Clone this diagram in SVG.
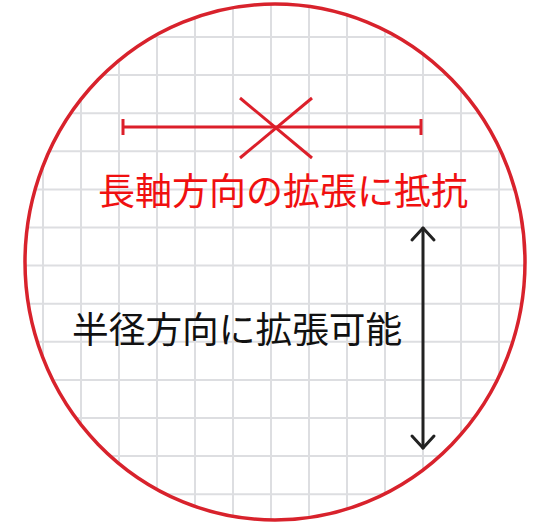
<svg xmlns="http://www.w3.org/2000/svg" width="545" height="526" viewBox="0 0 545 526">
  <style>
    .grid line { stroke: #dddee1; stroke-width: 2; }
    .red { stroke: #dc1f2a; stroke-width: 3; fill: none; }
    .ring { stroke: #d8222c; stroke-width: 3.5; fill: none; }
    .redtext { font-family: "Noto Sans CJK JP", "Noto Sans", sans-serif; font-size: 37px; fill: #f01010; }
    .blacktext { font-family: "Noto Sans CJK JP", "Noto Sans", sans-serif; font-size: 36.7px; fill: #111111; }
    .arrow { stroke: #222222; stroke-width: 3; fill: none; stroke-linecap: round; stroke-linejoin: round; }
  </style>
  <defs>
    <clipPath id="circleClip">
      <ellipse cx="275" cy="262" rx="250" ry="258"/>
    </clipPath>
  </defs>
  <rect width="545" height="526" fill="#ffffff"/>
  <g id="grid" class="grid" clip-path="url(#circleClip)">
    <line x1="5" y1="0" x2="5" y2="526"/>
    <line x1="43" y1="0" x2="43" y2="526"/>
    <line x1="81" y1="0" x2="81" y2="526"/>
    <line x1="119" y1="0" x2="119" y2="526"/>
    <line x1="157" y1="0" x2="157" y2="526"/>
    <line x1="195" y1="0" x2="195" y2="526"/>
    <line x1="233" y1="0" x2="233" y2="526"/>
    <line x1="271" y1="0" x2="271" y2="526"/>
    <line x1="309" y1="0" x2="309" y2="526"/>
    <line x1="347" y1="0" x2="347" y2="526"/>
    <line x1="385" y1="0" x2="385" y2="526"/>
    <line x1="423" y1="0" x2="423" y2="526"/>
    <line x1="461" y1="0" x2="461" y2="526"/>
    <line x1="499" y1="0" x2="499" y2="526"/>
    <line x1="537" y1="0" x2="537" y2="526"/>
    <line x1="0" y1="37" x2="545" y2="37"/>
    <line x1="0" y1="75.1" x2="545" y2="75.1"/>
    <line x1="0" y1="113.2" x2="545" y2="113.2"/>
    <line x1="0" y1="151.3" x2="545" y2="151.3"/>
    <line x1="0" y1="189.4" x2="545" y2="189.4"/>
    <line x1="0" y1="227.5" x2="545" y2="227.5"/>
    <line x1="0" y1="265.6" x2="545" y2="265.6"/>
    <line x1="0" y1="303.7" x2="545" y2="303.7"/>
    <line x1="0" y1="341.8" x2="545" y2="341.8"/>
    <line x1="0" y1="379.9" x2="545" y2="379.9"/>
    <line x1="0" y1="418" x2="545" y2="418"/>
    <line x1="0" y1="456.1" x2="545" y2="456.1"/>
    <line x1="0" y1="494.2" x2="545" y2="494.2"/>
  </g>
  <g id="circle">
    <ellipse class="ring" cx="275" cy="262" rx="250" ry="258"/>
  </g>
  <g id="connectors">
    <g id="axial-bar" class="red">
      <line x1="123" y1="127" x2="421" y2="127"/>
      <line x1="123" y1="119" x2="123" y2="135"/>
      <line x1="421" y1="119" x2="421" y2="135"/>
      <line x1="240" y1="98" x2="312" y2="158"/>
      <line x1="312" y1="98" x2="240" y2="158"/>
    </g>
    <g id="radial-arrow" class="arrow">
      <line x1="423" y1="228" x2="423" y2="448"/>
      <polyline points="412,240 423,228 434,240"/>
      <polyline points="412,436 423,448 434,436"/>
    </g>
  </g>
  <g id="label-axial">
    <text class="redtext" x="98" y="205">長軸方向の拡張に抵抗</text>
  </g>
  <g id="label-radial">
    <text class="blacktext" x="72" y="343">半径方向に拡張可能</text>
  </g>
</svg>
